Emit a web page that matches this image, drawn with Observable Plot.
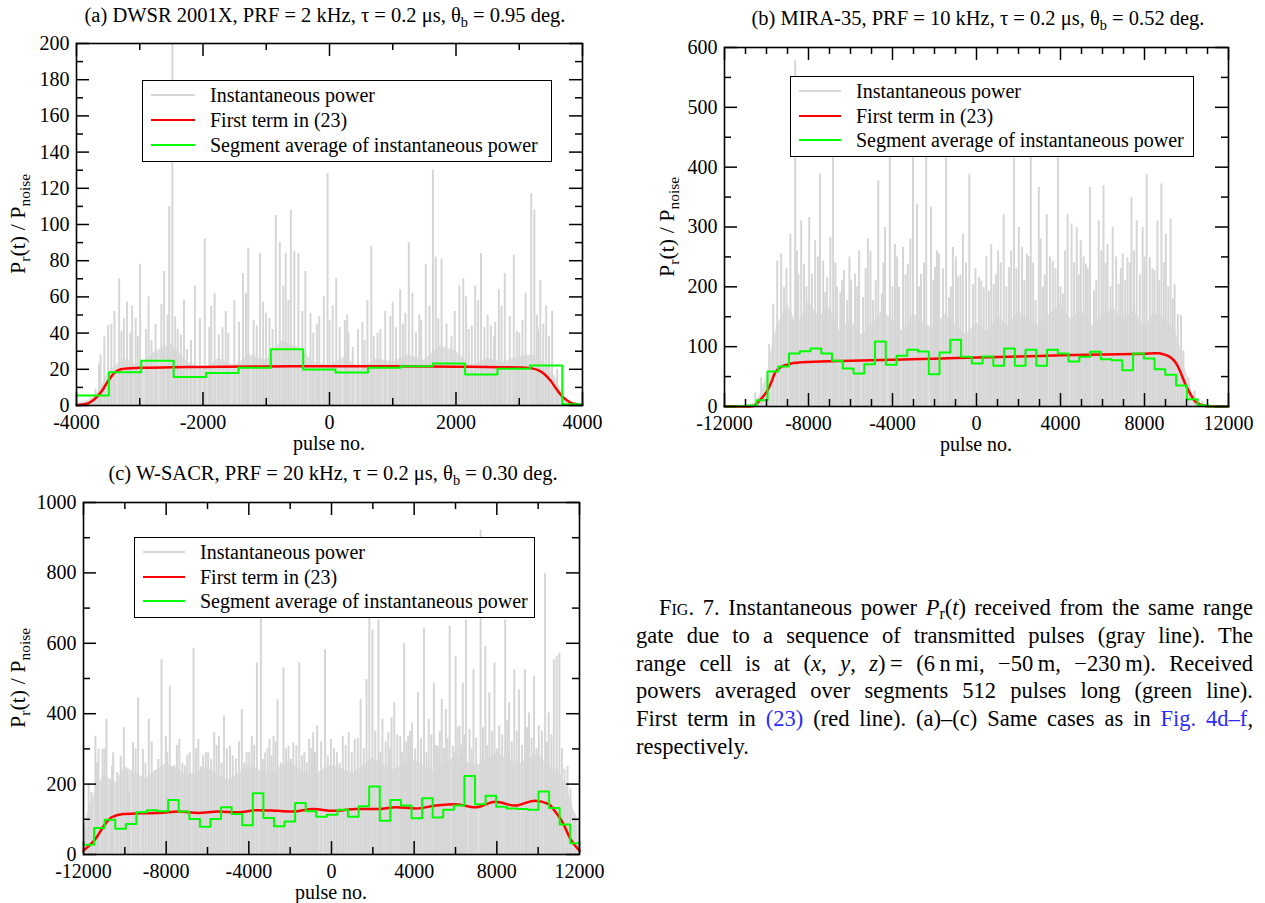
<!DOCTYPE html>
<html><head><meta charset="utf-8">
<script src="https://cdn.jsdelivr.net/npm/d3@7"></script>
<script src="https://cdn.jsdelivr.net/npm/@observablehq/plot@0.6"></script>
<style>
body{margin:0;background:#fff;}
#root{position:relative;width:1265px;height:903px;font-family:"Liberation Serif","Times New Roman",serif;color:#000;overflow:hidden;background:#fff}
.pl{position:absolute}
.title{position:absolute;font-size:20.5px;line-height:20px;white-space:nowrap;transform:translateX(-50%)}
.title sub,.ylab sub{font-size:0.7em;line-height:0;vertical-align:-0.35em}
.ylab{position:absolute;font-size:22px;line-height:22px;white-space:nowrap;transform:translate(-50%,-50%) rotate(-90deg)}
.xlab{position:absolute;font-size:20px;line-height:14px;white-space:nowrap;transform:translate(-50%,-50%)}
.legend{position:absolute;background:#fff;border:1.5px solid #000;box-sizing:border-box;z-index:5}
.legend .row{position:absolute;left:0;height:20px;font-size:20px;line-height:20px;white-space:nowrap}
.legend .sw{position:absolute;height:0;border-top-style:solid}
.legend .tx{position:absolute;top:-10px}
#caption{position:absolute;left:636px;top:594px;width:617px;font-size:22.5px;line-height:27.8px}
#caption .ln{text-align:justify;text-align-last:justify;white-space:nowrap;height:27.8px}
#caption .last{text-align:left;text-align-last:left}
#caption sub{font-size:0.7em;line-height:0;vertical-align:-0.25em}
#caption .lk{color:#2b2bff}
</style></head>
<body><div id="root"></div>
<script>
// ---------------- data ----------------
const segLen = 512; // pulses per averaging segment (from caption)

// Panel (a) DWSR 2001X
const aGreen = [5.5,18.4,24.7,15.7,17.9,20.8,31.1,19.9,18.2,20.8,21.7,23.2,17.1,20.3,22.1,0.7];
const aRedX = [-4000,-3900,-3800,-3700,-3600,-3500,-3400,-3300,-3200,-3000,-2500,-2000,-1000,0,1000,2000,2500,3000,3100,3200,3300,3400,3500,3600,3700,3800,3900,4000];
const aRedY = [0.2,0.6,1.5,4,8,13.5,18,20,20.5,20.8,21.1,21.3,21.6,21.7,21.7,21.4,21.3,21.0,20.9,20.5,19.5,17.3,13.5,8.5,4.3,1.8,0.7,0.3];
const aSpikeX = [-3644,-3500,-3450,-3326,-3251,-3201,-3064,-2995,-2814,-2658,-2615,-2534,-2484,-2440,-2253,-2128,-1972,-1816,-1691,-1504,-1367,-1285,-1098,-1005,-849,-786,-692,-611,-556,-493,-381,-256,-162,-31,106,243,368,555,661,805,961,1117,1254,1367,1523,1635,1679,1772,1928,2053,2115,2303,2396,2552,2677,2771,2914,3051,3189,3239,3333,3426,3520,3676,
  -3700,-3560,-3150,-2900,-2350,-1900,-1600,-1200,-900,-300,0,300,450,700,1050,1200,1450,1850,2200,2450,2600,3000,3300,3600,
  -3620,-3400,-3290,-3120,-3030,-2860,-2750,-2560,-2400,-2300,-2190,-2050,-1870,-1750,-1640,-1430,-1320,-1150,-1050,-950,-730,-650,-430,-200,-90,50,160,280,520,600,760,880,1000,1160,1310,1420,1580,1720,1980,2160,2250,2350,2500,2620,2720,2850,2960,3100,3280,3380,3470];
const aSpikeY = [23,44,45,70,48,57,48,78,36,56,74,110,215,49,31,66,92,62,43,58,73,87,84,51,105,90,84,108,85,84,74,40,49,128,70,47,32,36,88,42,49,64,90,40,78,130,82,81,38,66,70,66,84,44,64,73,83,47,117,108,69,55,52,7,
  9,38,40,42,39,43,40,47,42,51,47,40,42,38,43,51,47,45,42,43,38,40,42,20,
  28,52,41,55,38,60,45,50,42,58,36,48,55,39,52,46,62,44,57,48,66,58,52,45,60,55,43,50,46,58,40,52,57,45,62,50,55,48,52,60,44,58,50,46,55,49,41,62,50,45,38];
const aBandX = [-4000,-3800,-3650,-3500,-3250,-3000,-2750,-2500,-2250,-2000,-1750,-1500,-1250,-1000,-750,-500,-250,0,250,500,750,1000,1250,1500,1750,2000,2250,2500,2750,3000,3250,3500,3600,3700,3800,4000];
const aBandY = [1,3,8,18,26,22,30,34,24,20,26,22,28,25,36,32,24,22,27,20,26,24,28,25,33,30,22,26,24,27,28,20,14,5,2,0.5];

// Panel (b) MIRA-35
const bGreen = [0,0.5,1.7,10.6,58.5,66.9,88.6,92.5,97,88.6,76.3,63.5,55.2,70.8,108.6,69.6,84.7,94.7,91.9,54,90.3,111.4,83,71.9,83.6,68,97,68,94.7,68,94.7,88.6,75.2,83,91.4,79.1,77.4,60.7,88.6,80.2,62.4,52.9,35.1,12.3,2.2,0,0];
const bRedX = [-12000,-11000,-10600,-10345,-10150,-9965,-9800,-9585,-9400,-9204,-9000,-8824,-8444,-8000,-6000,-4000,-2000,0,2000,4000,6000,8000,8484,8700,8864,9050,9245,9400,9530,9680,9815,9950,10100,10250,10385,10550,10766,11000,12000];
const bRedY = [0,0,1,9.5,17,26,38,57,64,68,70,72,73.5,74.5,76.5,78,80,82,83.5,85.5,87,88,89,89,87.5,85.5,82,77,70.8,60,48.5,37,26,17,9.5,5,2,0.5,0];
const bSpikeX = [-10535,-10250,-9870,-9680,-9490,-9300,-9166,-8862,-8750,-8634,-8482,-8349,-8215,-7968,-7835,-7683,-7455,-7302,-7112,-6960,-6827,-6637,-6485,-6313,-6161,-5971,-5781,-5591,-5400,-5172,-4925,-4678,-4507,-4354,-4126,-3879,-3689,-3499,-3271,-3023,-2833,-2643,-2396,-2168,-1977,-1787,-1445,-1312,-1122,-874,-646,-342,-171,114,343,590,818,1028,1294,1541,1789,2017,2169,2398,2587,2816,2968,3158,3348,3633,3880,4109,4337,4527,4774,4965,5212,5402,5592,5820,6048,6239,6486,6771,6961,7189,7380,7627,7912,8102,8254,8482,8615,8806,9015,9243,9434,9586,9738,9852,10100,10385,10765,
  -9050,-8550,-8100,-7550,-7200,-6720,-6400,-6050,-5680,-5280,-5050,-4800,-4430,-4000,-3780,-3380,-3150,-2730,-2500,-2050,-1880,-1600,-1220,-980,-760,-500,-50,230,470,700,920,1150,1420,1650,1900,2280,2480,2700,3050,3250,3500,3760,4000,4220,4650,4870,5100,5300,5700,5950,6150,6380,6650,6870,7080,7300,7500,7780,8000,8380,8700,8920,9130,9350];
const bSpikeY = [23,48,104,171,243,255,199,288,143,578,221,310,238,316,221,277,388,243,216,282,416,199,190,227,177,210,221,260,182,280,177,377,188,299,444,271,199,266,238,416,338,221,433,333,232,255,444,182,266,216,288,388,204,216,199,193,204,260,321,232,416,299,266,255,416,177,366,199,321,243,416,188,321,305,299,277,238,366,193,310,369,271,299,204,255,249,349,310,299,388,249,227,310,372,288,313,204,154,152,93,48,26,9,
  230,260,200,250,190,240,210,250,200,230,260,210,240,200,250,220,280,200,240,210,260,230,200,250,220,240,230,210,250,270,220,240,200,260,230,210,250,240,280,220,250,230,200,260,240,220,250,230,210,260,240,200,250,230,210,240,260,220,250,230,210,240,200,180];
const bBandX = [-12000,-11000,-10600,-10300,-10000,-9750,-9500,-9000,-8500,-8000,-7500,-7000,-6500,-6000,-5500,-5000,-4500,-4000,-3500,-3000,-2500,-2000,-1500,-1000,-500,0,500,1000,1500,2000,2500,3000,3500,4000,4500,5000,5500,6000,6500,7000,7500,8000,8500,9000,9500,9750,10000,10300,10600,11000,12000];
const bBandY = [0,1,6,20,50,95,135,170,135,175,150,165,125,145,120,135,160,145,125,155,140,130,155,135,120,140,125,150,135,160,145,135,155,170,145,160,135,150,165,145,160,135,155,145,125,90,55,22,7,2,0];

// Panel (c) W-SACR
const cGreen = [28,75,99,73,87,120,126,123,155,122,101,79,101,134,115,83,174,104,80,94,146,123,107,113,127,107,137,193,96,155,139,103,160,105,127,139,223,143,167,136,131,129,127,179,132,85,32];
const cRedX = [-12000,-11425,-10946,-10659,-10084,-9318,-8360,-7402,-6444,-5487,-4529,-3571,-2613,-1847,-889,69,1218,2176,3134,4092,5050,6008,6966,7923,8881,9839,10510,10797,11180,11563,12000];
const cRedY = [11,44,87,105,115,117,118,122,118,122,120,126,124,122,129,124,129,129,134,131,139,143,134,150,139,153,143,124,91,44,11];
const cSpikeX = [-11904,-11617,-11425,-11272,-11080,-10889,-10697,-10563,-10372,-10046,-9797,-9605,-9356,-9126,-8839,-8552,-8226,-8015,-7824,-7594,-7364,-7096,-6866,-6674,-6444,-6215,-5966,-5678,-5448,-5199,-4912,-4625,-4337,-4107,-3858,-3609,-3418,-3226,-2996,-2805,-2613,-2326,-2077,-1847,-1559,-1310,-1080,-889,-697,-314,-27,261,548,835,1123,1410,1697,1831,1985,2272,2464,2751,2904,3038,3326,3517,3709,3900,4188,4475,4705,4954,5146,5337,5529,5720,5874,6008,6199,6352,6506,6678,6870,7215,7444,7636,7885,8115,8402,8594,8843,9073,9360,9552,9801,10031,10337,10510,10759,10893,11027,11276,11563,11755,
  -11750,-11350,-10980,-10620,-10200,-9900,-9480,-9000,-8700,-8380,-7950,-7700,-7480,-7220,-6980,-6560,-6330,-6080,-5820,-5560,-5320,-5060,-4780,-4480,-4220,-3980,-3740,-3320,-3100,-2900,-2700,-2450,-2200,-1960,-1700,-1430,-1200,-980,-800,-500,-180,120,400,690,980,1270,1560,2120,2360,2620,2820,3180,3420,3620,3800,4050,4330,4590,4830,5050,5240,5440,5620,5980,6100,6280,6440,6780,7000,7330,7540,7760,8000,8260,8500,8720,8960,9220,9460,9680,9920,10180,10420,10640,11150,11420];
const cSpikeY = [73,176,336,299,299,384,214,289,233,360,176,318,445,299,384,238,553,336,478,252,327,252,289,586,327,280,289,346,336,393,308,271,412,289,336,544,676,289,327,336,440,530,308,318,544,289,327,346,365,582,327,289,336,346,327,440,497,695,638,666,384,346,388,431,336,600,336,374,459,643,384,487,308,440,412,648,308,563,365,487,666,355,525,921,591,459,544,365,666,431,525,468,525,402,506,365,798,402,553,563,572,242,186,101,
  200,260,300,250,280,240,300,260,320,270,290,250,310,260,280,300,250,290,270,310,260,300,280,320,260,290,310,270,300,280,320,260,300,270,310,280,260,300,290,320,280,300,260,310,290,330,300,350,290,320,300,340,290,320,350,300,330,290,340,310,350,300,330,290,360,310,340,300,330,360,310,350,300,340,380,320,350,310,360,330,300,350,320,340,300,250];
const cBandX = [-12000,-11800,-11500,-11000,-10500,-10000,-9000,-8000,-7000,-6000,-5000,-4000,-3000,-2000,-1000,0,1000,2000,3000,4000,5000,6000,7000,8000,9000,10000,10500,11000,11400,11700,12000];
const cBandY = [70,120,170,230,200,250,215,260,225,245,210,250,230,265,220,255,230,275,240,270,235,280,250,290,255,285,250,240,190,130,90];

// tick values
const aXMajor = [-4000,-2000,0,2000,4000], aXMinor = [-3000,-1000,1000,3000];
const aYMajor = [0,20,40,60,80,100,120,140,160,180,200], aYMinor = [10,30,50,70,90,110,130,150,170,190];
const bXMajor = [-12000,-8000,-4000,0,4000,8000,12000];
const bXMinor = [-11000,-10000,-9000,-7000,-6000,-5000,-3000,-2000,-1000,1000,2000,3000,5000,6000,7000,9000,10000,11000];
const bYMajor = [0,100,200,300,400,500,600], bYMinor = [50,150,250,350,450,550];
const cXMajor = [-12000,-8000,-4000,0,4000,8000,12000], cXMinor = [-10000,-6000,-2000,2000,6000,10000];
const cYMajor = [0,200,400,600,800,1000], cYMinor = [100,300,500,700,900];

const legendLabels = ["Instantaneous power","First term in (23)","Segment average of instantaneous power"];
const colors = {gray:"#d6d6d6", band:"#e0e0e0", red:"#ff0000", green:"#00ff00"};

// ---------------- helpers ----------------
const zip = (xs, ys) => xs.map((x,i) => ({x, y: ys[i]}));
function steps(start, end, vals){
  const d = vals.map((v,i) => ({x: start + segLen*i, y: v}));
  d.push({x: end, y: vals[vals.length-1]});
  return d;
}
const root = document.getElementById("root");

function panel(c){
  const iw = c.width - c.ml - c.mr, ih = c.height - c.mt - c.mb;
  const T = 13, t = 7;
  const tk = {stroke:"#000", strokeWidth:1.5};
  const svg = Plot.plot({
    width: c.width, height: c.height,
    marginLeft: c.ml, marginRight: c.mr, marginTop: c.mt, marginBottom: c.mb,
    x: {domain: c.xDomain}, y: {domain: c.yDomain},
    style: {fontFamily: '"Liberation Serif","Times New Roman",serif', fontSize: "20px", background: "transparent", color: "#000", overflow: "visible"},
    marks: [
      Plot.areaY(zip(c.bandX, c.bandY), {x:"x", y:"y", fill: colors.band, clip: true}),
      Plot.ruleX(zip(c.spikeX, c.spikeY), {x:"x", y1: 0, y2:"y", stroke: colors.gray, strokeWidth: 2, clip: true}),
      Plot.line(zip(c.redX, c.redY), {x:"x", y:"y", stroke: colors.red, strokeWidth: 2.5, curve: "monotone-x"}),
      Plot.line(steps(c.xDomain[0], c.xDomain[1], c.green), {x:"x", y:"y", stroke: colors.green, strokeWidth: 2, curve: "step-after"}),
      Plot.ruleX(c.xMajor, {insetTop: ih - T, ...tk}),
      Plot.ruleX(c.xMajor, {insetBottom: ih - T, ...tk}),
      Plot.ruleX(c.xMinor, {insetTop: ih - t, ...tk}),
      Plot.ruleX(c.xMinor, {insetBottom: ih - t, ...tk}),
      Plot.ruleY(c.yMajor, {insetRight: iw - T, ...tk}),
      Plot.ruleY(c.yMajor, {insetLeft: iw - T, ...tk}),
      Plot.ruleY(c.yMinor, {insetRight: iw - t, ...tk}),
      Plot.ruleY(c.yMinor, {insetLeft: iw - t, ...tk}),
      Plot.frame({stroke:"#000", strokeWidth: 1.6}),
      Plot.axisX(c.xMajor, {tickSize: 0, tickPadding: 9, tickFormat: d => String(d), label: null, fontSize: 20}),
      Plot.axisY(c.yMajor, {tickSize: 0, tickPadding: 7, tickFormat: d => String(d), label: null, fontSize: 20})
    ]
  });
  const wrap = document.createElement("div");
  wrap.className = "pl";
  wrap.style.left = c.left + "px"; wrap.style.top = c.top + "px";
  wrap.appendChild(svg);
  root.appendChild(wrap);

  const fx0 = c.left + c.ml, fx1 = c.left + c.width - c.mr;
  const fy0 = c.top + c.mt, fy1 = c.top + c.height - c.mb;
  const cx = (fx0 + fx1) / 2, cy = (fy0 + fy1) / 2;

  const title = document.createElement("div");
  title.className = "title"; title.innerHTML = c.title;
  title.style.left = (cx + c.titleDx) + "px"; title.style.top = (c.titleY - 10) + "px";
  root.appendChild(title);

  const yl = document.createElement("div");
  yl.className = "ylab"; yl.innerHTML = "P<sub>r</sub>(t) / P<sub>noise</sub>";
  yl.style.left = (fx0 - c.ylabOff) + "px"; yl.style.top = cy + "px";
  root.appendChild(yl);

  const xl = document.createElement("div");
  xl.className = "xlab"; xl.textContent = "pulse no.";
  xl.style.left = cx + "px"; xl.style.top = (fy1 + 38) + "px";
  root.appendChild(xl);

  const lg = document.createElement("div");
  lg.className = "legend";
  Object.assign(lg.style, {left: c.lg[0]+"px", top: c.lg[1]+"px", width: c.lg[2]+"px", height: c.lg[3]+"px"});
  const sw = [[colors.gray, 2], [colors.red, 2.5], [colors.green, 2.5]];
  legendLabels.forEach((lab, i) => {
    const r = document.createElement("div");
    r.className = "row"; r.style.top = (c.lgRows[i]) + "px";
    r.innerHTML = `<div class="sw" style="left:${c.lgSw[0]}px;width:${c.lgSw[1]-c.lgSw[0]}px;border-top-width:${sw[i][1]}px;border-top-color:${sw[i][0]};top:-1px"></div><div class="tx" style="left:${c.lgTx}px">${lab}</div>`;
    lg.appendChild(r);
  });
  root.appendChild(lg);
}

panel({left:0, top:0, width:600, height:460, ml:76, mr:18, mt:43, mb:55,
  xDomain:[-4000,4000], yDomain:[0,200],
  xMajor:aXMajor, xMinor:aXMinor, yMajor:aYMajor, yMinor:aYMinor,
  green:aGreen, redX:aRedX, redY:aRedY, spikeX:aSpikeX, spikeY:aSpikeY, bandX:aBandX, bandY:aBandY,
  title:"(a) DWSR 2001X, PRF = 2 kHz, τ = 0.2 μs, θ<sub>b</sub> = 0.95 deg.", titleY:15, titleDx:-4,
  ylabOff:58, lg:[142,80,410,82], lgRows:[14,39,64], lgSw:[8,52], lgTx:67});

panel({left:640, top:0, width:610, height:460, ml:84, mr:22, mt:47, mb:54,
  xDomain:[-12000,12000], yDomain:[0,600],
  xMajor:bXMajor, xMinor:bXMinor, yMajor:bYMajor, yMinor:bYMinor,
  green:bGreen, redX:bRedX, redY:bRedY, spikeX:bSpikeX, spikeY:bSpikeY, bandX:bBandX, bandY:bBandY,
  title:"(b) MIRA-35, PRF = 10 kHz, τ = 0.2 μs, θ<sub>b</sub> = 0.52 deg.", titleY:18, titleDx:2,
  ylabOff:57, lg:[790,76,404,81], lgRows:[14,39,63], lgSw:[8,50], lgTx:65});

panel({left:0, top:455, width:600, height:448, ml:83, mr:21, mt:47, mb:49,
  xDomain:[-12000,12000], yDomain:[0,1000],
  xMajor:cXMajor, xMinor:cXMinor, yMajor:cYMajor, yMinor:cYMinor,
  green:cGreen, redX:cRedX, redY:cRedY, spikeX:cSpikeX, spikeY:cSpikeY, bandX:cBandX, bandY:cBandY,
  title:"(c) W-SACR, PRF = 20 kHz, τ = 0.2 μs, θ<sub>b</sub> = 0.30 deg.", titleY:473, titleDx:2,
  ylabOff:65, lg:[134,537,401,81], lgRows:[14,39,63], lgSw:[8,50], lgTx:65});

// caption
const cap = document.createElement("div");
cap.id = "caption";
cap.innerHTML = [
  `<div class="ln" style="padding-left:23px">F<span style="font-variant:small-caps">ig</span>. 7. Instantaneous power <i>P</i><sub>r</sub>(<i>t</i>) received from the same range</div>`,
  `<div class="ln">gate due to a sequence of transmitted pulses (gray line). The</div>`,
  `<div class="ln">range cell is at (<i>x</i>, <i>y</i>, <i>z</i>)&#8201;= (6&#8201;n&#8201;mi, −50&#8201;m, −230&#8201;m). Received</div>`,
  `<div class="ln">powers averaged over segments 512 pulses long (green line).</div>`,
  `<div class="ln">First term in <span class="lk">(23)</span> (red line). (a)–(c) Same cases as in <span class="lk">Fig. 4d–f</span>,</div>`,
  `<div class="ln last">respectively.</div>`
].join("");
root.appendChild(cap);
</script>
</body></html>
